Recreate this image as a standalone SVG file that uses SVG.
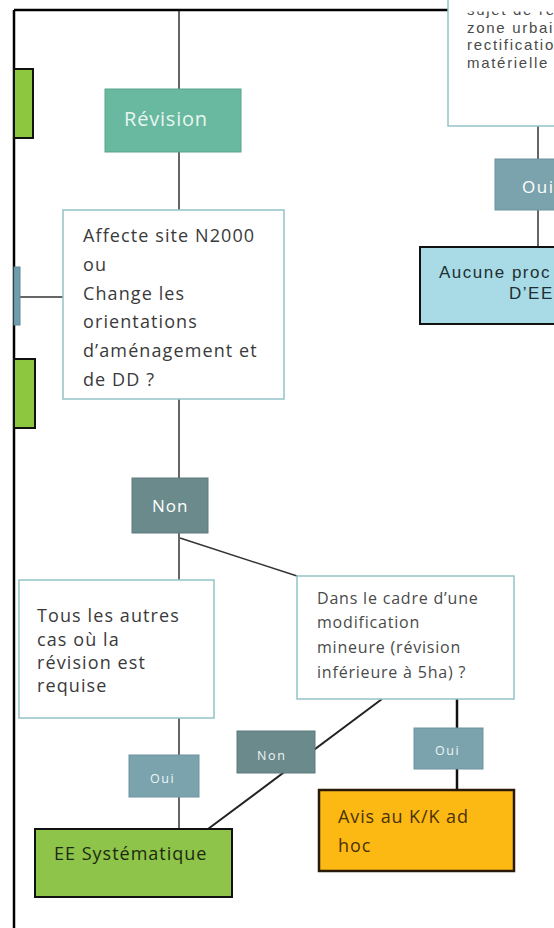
<svg xmlns="http://www.w3.org/2000/svg" width="554" height="928" viewBox="0 0 554 928">
<style>
text{font-family:"Open Sans","Liberation Sans",sans-serif;}
.t18{font-size:18px;letter-spacing:1.1px;fill:#3a3a3a;}
.t16{font-size:16px;letter-spacing:0.8px;fill:#4a4a4a;}
.t15{font-family:"Liberation Sans",Arial,sans-serif;font-size:15px;letter-spacing:1.7px;fill:#4a4a4a;}
.wbox{fill:#ffffff;stroke:#93c4c8;stroke-width:1.5;}
.lab{fill:#ffffff;font-size:17px;letter-spacing:1px;}
.slab{fill:#eef4f5;font-size:12.5px;letter-spacing:1.6px;}
.line{stroke:#333;stroke-width:1.5;fill:none;}
.bold{stroke:#111;stroke-width:2.5;fill:none;}
.dark{stroke:#111;stroke-width:2;}
.auc{font-family:"Liberation Sans",Arial,sans-serif;font-size:17px;letter-spacing:1.5px;fill:#1f2f33;}
</style>
<defs>
<clipPath id="clipTop"><rect x="448" y="11.5" width="106" height="130"/></clipPath>
</defs>
<rect x="0" y="0" width="554" height="928" fill="#ffffff"/>

<g id="connectors">
<line class="line" x1="179" y1="10" x2="179" y2="89"/>
<line class="line" x1="179" y1="152" x2="179" y2="210"/>
<line class="line" x1="20" y1="297" x2="63" y2="297"/>
<line class="line" x1="179" y1="399" x2="179" y2="478"/>
<line class="line" x1="179" y1="533" x2="179" y2="580"/>
<line class="line" x1="180" y1="538" x2="297" y2="576"/>
<line class="line" x1="179" y1="718" x2="179" y2="755"/>
<line class="line" x1="179" y1="797" x2="179" y2="829"/>
<line class="bold" x1="457" y1="699" x2="457" y2="728"/>
<line class="bold" x1="457" y1="769" x2="457" y2="790"/>
<line x1="382" y1="699" x2="208" y2="829" stroke="#222" stroke-width="2"/>
<line class="line" x1="538" y1="126" x2="538" y2="159"/>
<line class="line" x1="538" y1="210" x2="538" y2="247"/>
</g>

<g id="frame">
<line x1="14" y1="10" x2="554" y2="10" stroke="#000" stroke-width="2.5"/>
<line x1="14" y1="10" x2="14" y2="928" stroke="#000" stroke-width="2.5"/>
</g>

<g id="left-green-1">
<rect x="14" y="69" width="19" height="69" fill="#8dc63f" class="dark"/>
</g>
<g id="left-blue">
<rect x="14" y="267" width="6" height="58" fill="#6f9dae" stroke="#5f8a98" stroke-width="1"/>
</g>
<g id="left-green-2">
<rect x="14" y="359" width="21" height="69" fill="#8dc63f" class="dark"/>
</g>

<g id="top-right-box">
<rect x="448" y="-5" width="120" height="131" class="wbox"/>
<g clip-path="url(#clipTop)">
<text class="t15" x="467" y="15">sujet de re</text>
</g>
<text class="t15" x="467" y="32.5">zone urbai</text>
<text class="t15" x="467" y="50">rectificatio</text>
<text class="t15" x="467" y="67.5">matérielle</text>
</g>

<g id="oui-top">
<rect x="495" y="159" width="86" height="51" fill="#7ba3ae" stroke="#6d949f" stroke-width="1"/>
<text class="lab" x="522" y="193" style="letter-spacing:1.5px">Oui</text>
</g>

<g id="aucune">
<rect x="420" y="247" width="214" height="77" fill="#a8dbe6" class="dark"/>
<text class="auc" x="439" y="278">Aucune proc</text>
<text class="auc" x="509" y="299">D’EE</text>
</g>

<g id="revision">
<rect x="105" y="89" width="136" height="63" fill="#69b9a0" stroke="#5aa38c" stroke-width="1"/>
<text x="124" y="126" style="fill:#e8f6f0;font-size:20px;letter-spacing:0.8px">Révision</text>
</g>

<g id="affecte">
<rect x="63" y="210" width="221" height="189" class="wbox"/>
<text class="t18" x="83" y="242">Affecte site N2000</text>
<text class="t18" x="83" y="271">ou</text>
<text class="t18" x="83" y="300">Change les</text>
<text class="t18" x="83" y="328">orientations</text>
<text class="t18" x="83" y="357">d’aménagement et</text>
<text class="t18" x="83" y="386">de DD ?</text>
</g>

<g id="non-1">
<rect x="132" y="478" width="76" height="55" fill="#6b8a8c" stroke="#5e7b7d" stroke-width="1"/>
<text class="lab" x="152" y="512">Non</text>
</g>

<g id="tous">
<rect x="19" y="580" width="195" height="138" class="wbox"/>
<text class="t18" x="37" y="622">Tous les autres</text>
<text class="t18" x="37" y="645.5">cas où la</text>
<text class="t18" x="37" y="669">révision est</text>
<text class="t18" x="37" y="692">requise</text>
</g>

<g id="dans">
<rect x="297" y="576" width="217" height="123" class="wbox"/>
<text class="t16" x="317" y="604">Dans le cadre d’une</text>
<text class="t16" x="317" y="628">modification</text>
<text class="t16" x="317" y="653">mineure (révision</text>
<text class="t16" x="317" y="678">inférieure à 5ha) ?</text>
</g>

<g id="oui-1">
<rect x="129" y="755" width="70" height="42" fill="#7ba3ae" stroke="#6d949f" stroke-width="1"/>
<text class="slab" x="150" y="783">Oui</text>
</g>

<g id="non-2">
<rect x="237" y="731" width="78" height="42" fill="#6b8a8c" stroke="#5e7b7d" stroke-width="1"/>
<text class="slab" x="257" y="760" style="letter-spacing:1.7px">Non</text>
</g>

<g id="oui-2">
<rect x="414" y="728" width="69" height="41" fill="#7ba3ae" stroke="#6d949f" stroke-width="1"/>
<text class="slab" x="435" y="755">Oui</text>
</g>

<g id="ee">
<rect x="35" y="829" width="197" height="68" fill="#8dc449" class="dark"/>
<text class="t18" x="54" y="860" style="fill:#1d2a10;letter-spacing:1px">EE Systématique</text>
</g>

<g id="avis">
<rect x="319" y="790" width="195" height="81" fill="#fdb913" stroke="#2a1a0a" stroke-width="2.5"/>
<text class="t18" x="338" y="823" style="fill:#4a3208;letter-spacing:0.9px">Avis au K/K ad</text>
<text class="t18" x="338" y="852" style="fill:#4a3208;letter-spacing:0.9px">hoc</text>
</g>
</svg>
